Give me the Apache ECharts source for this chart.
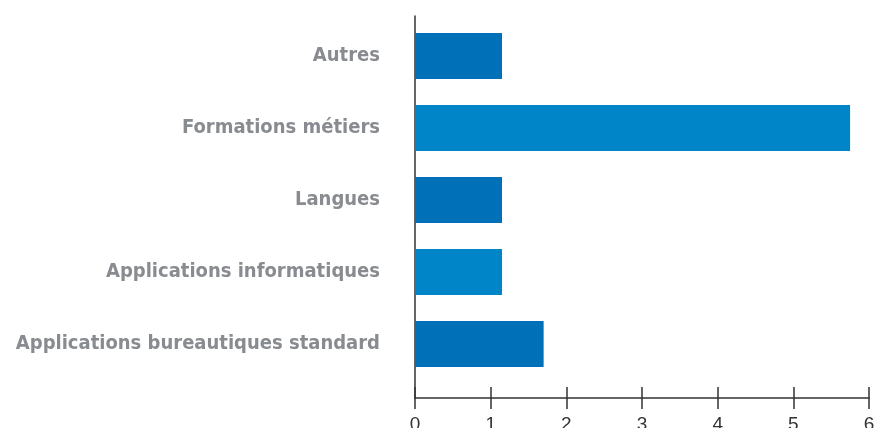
<!DOCTYPE html>
<html>
<head>
<meta charset="utf-8">
<script src="https://cdn.jsdelivr.net/npm/echarts@6/dist/echarts.min.js"></script>
<style>
  html, body { margin: 0; padding: 0; background: #fff; }
  #chart { width: 874px; height: 428px; }
</style>
</head>
<body>
<div id="chart"></div>
<script>
// categories, bottom to top (ECharts draws category axis upward)
const categories = [
  'Applications bureautiques standard',
  'Applications informatiques',
  'Langues',
  'Formations métiers',
  'Autres'
]
const values = [1.7, 1.15, 1.15, 5.75, 1.15]
const xTicks = [0, 1, 2, 3, 4, 5, 6]

const darkBlue = '#0071b9'
const lightBlue = '#0085c9'
const barColors = [darkBlue, lightBlue, darkBlue, lightBlue, darkBlue]

const tickStyle = { color: '#333', width: 1.5 }

const myChart = echarts.init(document.getElementById('chart'))
myChart.setOption({
  animation: false,
  grid: [
    // bars area
    { left: 415, right: 5, top: 20, bottom: 48, outerBoundsMode: 'none', containLabel: false },
    // axes frame
    { left: 415, right: 5, top: 16, bottom: 30, outerBoundsMode: 'none', containLabel: false }
  ],
  xAxis: [{
    gridIndex: 0,
    type: 'value',
    min: xTicks[0],
    max: xTicks[xTicks.length - 1],
    show: false
  }, {
    gridIndex: 1,
    type: 'value',
    min: xTicks[0],
    max: xTicks[xTicks.length - 1],
    interval: 1,
    axisLine: { show: true, lineStyle: tickStyle },
    axisTick: { show: true, length: 11, lineStyle: tickStyle },
    axisLabel: {
      color: '#333',
      fontSize: 19,
      fontFamily: 'Liberation Sans, Arial, sans-serif',
      margin: 17,
      showMinLabel: true,
      showMaxLabel: true
    },
    splitLine: { show: false }
  }, {
    gridIndex: 1,
    type: 'value',
    min: xTicks[0],
    max: xTicks[xTicks.length - 1],
    interval: 1,
    position: 'bottom',
    axisLine: { show: false },
    axisTick: { show: true, inside: true, length: 11, lineStyle: tickStyle },
    axisLabel: { show: false },
    splitLine: { show: false }
  }],
  yAxis: [{
    gridIndex: 0,
    type: 'category',
    data: categories,
    axisLine: { show: false },
    axisTick: { show: false },
    axisLabel: {
      color: '#888b8f',
      fontSize: 20,
      fontWeight: 'bold',
      fontFamily: 'DejaVu Sans Condensed, sans-serif',
      margin: 35
    }
  }, {
    gridIndex: 1,
    type: 'category',
    data: categories,
    axisLine: { show: true, lineStyle: tickStyle },
    axisTick: { show: false },
    axisLabel: { show: false }
  }],
  series: [{
    type: 'bar',
    xAxisIndex: 0,
    yAxisIndex: 0,
    barWidth: 46,
    z: 3,
    data: values.map((v, i) => ({ value: v, itemStyle: { color: barColors[i] } }))
  }]
})
</script>
</body>
</html>
